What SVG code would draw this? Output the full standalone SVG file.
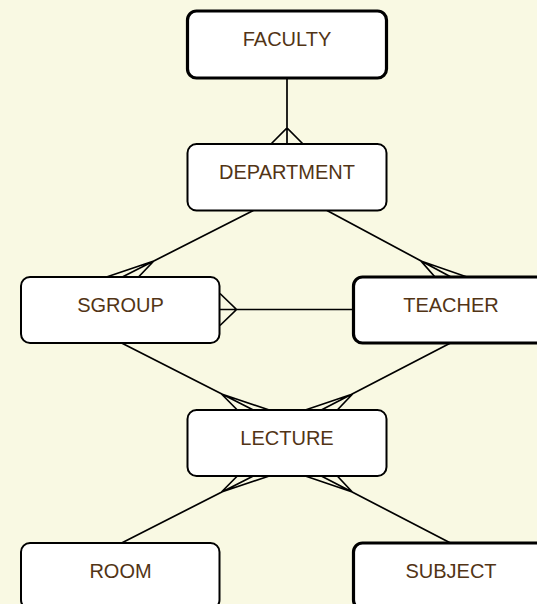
<svg xmlns="http://www.w3.org/2000/svg" width="537" height="604" viewBox="0 0 537 604">
<style>
.bg{fill:#f9f9e3}
.box{fill:#ffffff;stroke:#000000;stroke-width:2}
.thick{stroke-width:3.2}
.lbl{font-family:"Liberation Sans",Arial,sans-serif;font-size:20px;fill:#523415;text-anchor:middle}
.cn{stroke:#000000;stroke-width:1.7;fill:none;stroke-linejoin:miter}
</style>
<rect class="bg" x="0" y="0" width="537" height="604"/>
<g id="connectors">
  <!-- FACULTY - DEPARTMENT -->
  <path class="cn" d="M287,78 L287,144 M271,144 L287,128 L303,144"/>
  <!-- DEPARTMENT - SGROUP -->
  <path class="cn" d="M253.3,210.5 L122.3,277 M106.5,277 L153.8,261 L138.5,277"/>
  <!-- DEPARTMENT - TEACHER -->
  <path class="cn" d="M327,210.5 L451,277 M435,277 L421,261 L467,277"/>
  <!-- SGROUP - TEACHER -->
  <path class="cn" d="M220,309.5 L353,309.5 M220,293.5 L236.5,309.5 L220,325.5"/>
  <!-- SGROUP - LECTURE -->
  <path class="cn" d="M121.6,343 L253.3,410 M237.3,410 L221.5,394 L269.3,410"/>
  <!-- TEACHER - LECTURE -->
  <path class="cn" d="M450.5,343 L321.3,410 M305.3,410 L352.6,394 L337.3,410"/>
  <!-- LECTURE - ROOM -->
  <path class="cn" d="M253.3,476 L121.6,543 M237.3,476 L221.5,492 L269.3,476"/>
  <!-- LECTURE - SUBJECT -->
  <path class="cn" d="M321.3,476 L450.5,543 M305.3,476 L352.3,492 L337.3,476"/>
</g>
<g id="FACULTY">
  <rect class="box thick" x="187.5" y="11" width="199" height="67" rx="9"/>
  <text class="lbl" x="287" y="46">FACULTY</text>
</g>
<g id="DEPARTMENT">
  <rect class="box" x="187.5" y="144" width="199" height="66.5" rx="9"/>
  <text class="lbl" x="287" y="179">DEPARTMENT</text>
</g>
<g id="SGROUP">
  <rect class="box" x="21" y="277" width="198.5" height="66" rx="9"/>
  <text class="lbl" x="120.5" y="311.5">SGROUP</text>
</g>
<g id="TEACHER">
  <rect class="box thick" x="353.5" y="277" width="198" height="66" rx="9"/>
  <text class="lbl" x="451" y="311.5">TEACHER</text>
</g>
<g id="LECTURE">
  <rect class="box" x="187.5" y="410" width="199" height="66" rx="9"/>
  <text class="lbl" x="287" y="444.5">LECTURE</text>
</g>
<g id="ROOM">
  <rect class="box" x="21" y="543" width="198.5" height="66" rx="9"/>
  <text class="lbl" x="120.5" y="577.5">ROOM</text>
</g>
<g id="SUBJECT">
  <rect class="box thick" x="353.5" y="543" width="198" height="66" rx="9"/>
  <text class="lbl" x="451" y="577.5">SUBJECT</text>
</g>
</svg>
